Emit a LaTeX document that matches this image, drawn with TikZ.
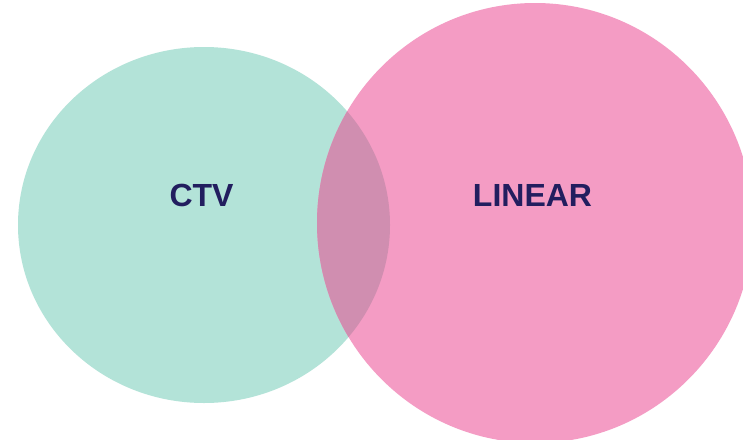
\documentclass[tikz,border=0pt]{standalone}
\usepackage{fontspec}
\setmainfont{Liberation Sans}
\definecolor{teal}{HTML}{B3E3D8}
\definecolor{pinkc}{HTML}{F49CC4}
\definecolor{overlap}{HTML}{D08EB0}
\definecolor{navy}{HTML}{221E5F}
\begin{document}
\begin{tikzpicture}[x=1pt,y=-1pt,
  lbl/.style={text=navy,font=\bfseries\fontsize{32}{35}\selectfont,inner sep=0pt}]
\useasboundingbox (0,0) rectangle (743,439);
\fill[white] (0,0) rectangle (743,439);
\fill[teal] (204,225) ellipse [x radius=186, y radius=178];
\fill[pinkc] (535,223) ellipse [x radius=218, y radius=220];
\begin{scope}
\clip (204,225) ellipse [x radius=186, y radius=178];
\fill[overlap] (535,223) ellipse [x radius=218, y radius=220];
\end{scope}
\node[lbl] (ctv) at (201.5,195) {CTV};
\node[lbl] (linear) at (532.5,195) {LINEAR};
\end{tikzpicture}
\end{document}
